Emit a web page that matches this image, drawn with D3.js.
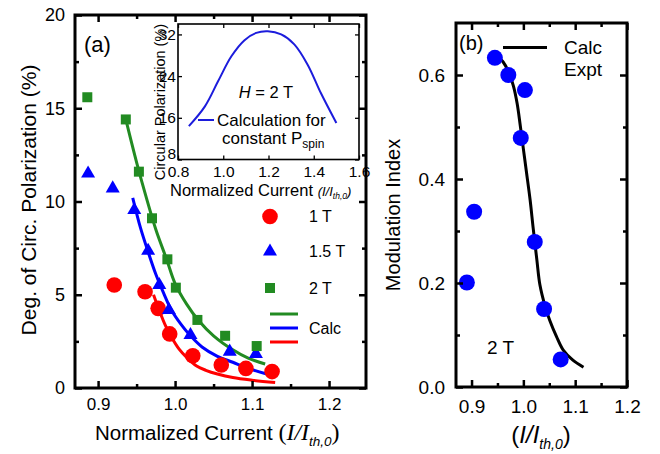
<!DOCTYPE html>
<html><head><meta charset="utf-8">
<script src="https://cdn.jsdelivr.net/npm/d3@7"></script>
<style>
body{margin:0;background:#fff;}
text{font-family:"Liberation Sans",Arial,sans-serif;fill:#000;}
</style></head>
<body><svg id="c" width="660" height="454"></svg>
<script>
// ---------- DATA ----------
// Panel (a): experimental points (x = I/I_th,0, y = circular polarization %)
const red1T_x   = [0.921, 0.961, 0.978, 0.993, 1.023, 1.060, 1.092, 1.126];
const red1T_y   = [5.52, 5.16, 4.27, 2.90, 1.73, 1.23, 1.05, 0.88];
const blue15T_x = [0.887, 0.919, 0.947, 0.965, 0.9795, 0.992, 1.020, 1.071, 1.105];
const blue15T_y = [11.5, 10.7, 9.54, 7.36, 5.52, 4.18, 2.84, 1.95, 1.82];
const green2T_x = [0.886, 0.936, 0.953, 0.970, 0.990, 1.001, 1.029, 1.065, 1.106];
const green2T_y = [15.59, 14.4, 11.6, 9.1, 6.9, 5.38, 3.65, 2.80, 2.25];
// Panel (a): calculated curves
const calcGreen_x = [0.936, 0.950, 0.962, 0.975, 0.989, 1.000, 1.015, 1.030, 1.050, 1.075, 1.095, 1.117];
const calcGreen_y = [14.4, 12.1, 10.3, 8.5, 6.9, 5.6, 4.5, 3.65, 2.8, 2.05, 1.6, 1.29];
const calcBlue_x  = [0.945, 0.955, 0.965, 0.975, 0.985, 0.995, 1.008, 1.020, 1.035, 1.055, 1.075, 1.095, 1.119];
const calcBlue_y  = [10.2, 8.6, 7.3, 6.1, 5.1, 4.2, 3.4, 2.8, 2.2, 1.7, 1.38, 1.05, 0.75];
const calcRed_x   = [0.972, 0.980, 0.988, 0.995, 1.005, 1.016, 1.028, 1.040, 1.055, 1.075, 1.100, 1.130];
const calcRed_y   = [5.0, 4.1, 3.3, 2.75, 2.1, 1.6, 1.18, 0.95, 0.75, 0.56, 0.42, 0.30];
// Inset: calculation for constant P_spin (H = 2 T)
const inset_x = [0.848, 0.919, 0.977, 1.036, 1.094, 1.146, 1.197, 1.256, 1.314, 1.373, 1.432, 1.500];
const inset_y = [14.4, 18.2, 23.0, 27.8, 30.9, 32.3, 32.6, 32.0, 30.1, 26.2, 20.7, 15.0];
// Panel (b): modulation index
const expt_x = [0.891, 0.905, 0.945, 0.971, 0.995, 1.003, 1.022, 1.040, 1.072];
const expt_y = [0.201, 0.337, 0.633, 0.600, 0.479, 0.571, 0.279, 0.150, 0.053];
const calcB_x = [0.936, 0.950, 0.961, 0.972, 0.981, 0.988, 0.994, 1.000, 1.006, 1.013, 1.019, 1.026, 1.032, 1.042, 1.051, 1.064, 1.077, 1.095, 1.116];
const calcB_y = [0.640, 0.636, 0.625, 0.605, 0.578, 0.545, 0.503, 0.458, 0.413, 0.360, 0.305, 0.245, 0.196, 0.155, 0.128, 0.097, 0.071, 0.052, 0.038];
// Ticks
const aXMajor = [0.9, 1.0, 1.1, 1.2], aXMinor = [0.95, 1.05, 1.15];
const aYMajor = [0, 5, 10, 15, 20],   aYMinor = [2.5, 7.5, 12.5, 17.5];
const iXMajor = [0.8, 1.0, 1.2, 1.4, 1.6], iYMajor = [8, 16, 24, 32];
const bXMajor = [0.9, 1.0, 1.1, 1.2], bXMinor = [0.95, 1.05, 1.15];
const bYMajor = [0, 0.2, 0.4, 0.6],   bYMinor = [0.1, 0.3, 0.5];
const legendA = [{label:"1 T", shape:"circle"}, {label:"1.5 T", shape:"triangle"}, {label:"2 T", shape:"square"}];

// ---------- STYLE ----------
const RED = "#ff0000", BLUE = "#0000ff", GREEN = "#228b22", INSET = "#1c1cdc";
const svg = d3.select("#c");
svg.append("rect").attr("width",660).attr("height",454).attr("fill","#fff");
const zip = (xs, ys) => xs.map((x,i)=>[x, ys[i]]);

function frameAxes(g, x, y, o) {
  const [x0,x1] = x.range(), [y0,y1] = y.range();
  const mk = (axis, tr, vals, size, pad, fmt, fs) => {
    const a = g.append("g").attr("transform", tr)
      .call(axis.tickValues(vals).tickSize(size).tickPadding(pad).tickFormat(fmt));
    a.select(".domain").remove();
    a.selectAll("line").attr("stroke","#000").attr("stroke-width", o.tw);
    a.selectAll("text").attr("font-size", fs).attr("font-family","Liberation Sans, Arial, sans-serif").attr("fill","#000");
    return a;
  };
  const none = () => "";
  const bx = mk(d3.axisBottom(x), `translate(0,${y0})`, o.xMaj, -o.maj, o.xpad, o.xfmt, o.fs);
  mk(d3.axisTop(x), `translate(0,${y1})`, o.xMaj, -o.maj, 0, none, o.fs);
  const ly = mk(d3.axisLeft(y), `translate(${x0},0)`, o.yMaj, -o.maj, o.ypad, o.yfmt, o.fsy||o.fs);
  mk(d3.axisRight(y), `translate(${x1},0)`, o.yMaj, -o.maj, 0, none, o.fs);
  if (o.xMin) {
    mk(d3.axisBottom(x), `translate(0,${y0})`, o.xMin, -o.min, 0, none, o.fs);
    mk(d3.axisTop(x), `translate(0,${y1})`, o.xMin, -o.min, 0, none, o.fs);
  }
  if (o.yMin) {
    mk(d3.axisLeft(y), `translate(${x0},0)`, o.yMin, -o.min, 0, none, o.fs);
    mk(d3.axisRight(y), `translate(${x1},0)`, o.yMin, -o.min, 0, none, o.fs);
  }
  g.append("rect").attr("x",x0).attr("y",y1).attr("width",x1-x0).attr("height",y0-y1)
    .attr("fill","none").attr("stroke","#000").attr("stroke-width",o.fw);
  return {bx, ly};
}

// ---------- PANEL (a) ----------
const xA = d3.scaleLinear().domain([0.87, 1.248]).range([75, 366]);
const yA = d3.scaleLinear().domain([0, 20]).range([388, 15]);
const gA = svg.append("g");
const lineA = d3.line().x(d=>xA(d[0])).y(d=>yA(d[1])).curve(d3.curveCatmullRom.alpha(0.5));
[[calcGreen_x,calcGreen_y,GREEN],[calcBlue_x,calcBlue_y,BLUE],[calcRed_x,calcRed_y,RED]].forEach(([xs,ys,c])=>{
  gA.append("path").attr("d", lineA(zip(xs,ys))).attr("fill","none").attr("stroke",c).attr("stroke-width",3);
});
const triSym = d3.symbol().type(d3.symbolTriangle).size(85)();
const sqSym = d3.symbol().type(d3.symbolSquare).size(100)();
gA.selectAll(".r").data(zip(red1T_x, red1T_y)).join("circle")
  .attr("cx",d=>xA(d[0])).attr("cy",d=>yA(d[1])).attr("r",7.8).attr("fill",RED);
gA.selectAll(".t").data(zip(blue15T_x, blue15T_y)).join("path")
  .attr("d",triSym).attr("transform",d=>`translate(${xA(d[0])},${yA(d[1])})`).attr("fill",BLUE);
gA.selectAll(".s").data(zip(green2T_x, green2T_y)).join("path")
  .attr("d",sqSym).attr("transform",d=>`translate(${xA(d[0])},${yA(d[1])})`).attr("fill",GREEN);

// legend (a)
const legY = [216.5, 251.5, 288];
legendA.forEach((L,i)=>{
  const cy = legY[i];
  if (L.shape==="circle") gA.append("circle").attr("cx",270).attr("cy",cy).attr("r",7.8).attr("fill",RED);
  if (L.shape==="triangle") gA.append("path").attr("d",triSym).attr("transform",`translate(270,${cy})`).attr("fill",BLUE);
  if (L.shape==="square") gA.append("path").attr("d",sqSym).attr("transform",`translate(270,${cy})`).attr("fill",GREEN);
  gA.append("text").attr("x",309).attr("y",cy+5.5).attr("font-size",16).text(L.label);
});
[[314,GREEN],[328,BLUE],[342,RED]].forEach(([y,c])=>{
  gA.append("line").attr("x1",270).attr("x2",298).attr("y1",y).attr("y2",y).attr("stroke",c).attr("stroke-width",3);
});
gA.append("text").attr("x",309).attr("y",333.5).attr("font-size",16).text("Calc");

frameAxes(gA, xA, yA, {xMaj:aXMajor, xMin:aXMinor, yMaj:aYMajor, yMin:aYMinor, maj:7, min:4, tw:2.5, fw:3,
  xpad:10, ypad:10, xfmt:d3.format(".1f"), yfmt:d3.format("d"), fs:17, fsy:18});
gA.append("text").attr("x",84).attr("y",52).attr("font-size",22).text("(a)");

// x title (a)
const tA = gA.append("text").attr("x",95).attr("y",440).attr("font-size",20.5);
tA.append("tspan").text("Normalized Current ");
tA.append("tspan").attr("font-family","Liberation Serif, Times New Roman, serif").attr("font-size",24).text("(");
tA.append("tspan").attr("font-family","Liberation Serif, Times New Roman, serif").attr("font-style","italic").attr("font-size",24).text("I/I");
tA.append("tspan").attr("font-style","italic").attr("font-size",13.5).attr("dy",6).text("th,0");
tA.append("tspan").attr("font-family","Liberation Serif, Times New Roman, serif").attr("font-size",24).attr("dy",-6).text(")");
// y title (a)
gA.append("text").attr("transform","translate(36,200) rotate(-90)").attr("text-anchor","middle")
  .attr("font-size",21).text("Deg. of Circ. Polarization (%)");

// ---------- INSET ----------
const xI = d3.scaleLinear().domain([0.8, 1.6]).range([178, 359]);
const yI = d3.scaleLinear().domain([8, 34]).range([159.5, 24]);
const gI = svg.append("g");
gI.append("rect").attr("x",178).attr("y",24).attr("width",181).attr("height",135.5).attr("fill","#fff");
gI.append("path").attr("d", d3.line().x(d=>xI(d[0])).y(d=>yI(d[1])).curve(d3.curveCatmullRom.alpha(0.5))(zip(inset_x, inset_y)))
  .attr("fill","none").attr("stroke",INSET).attr("stroke-width",2);
gI.append("text").attr("transform","translate(165,102) rotate(-90)").attr("text-anchor","middle")
  .attr("font-size",14.5).text("Circular Polarization (%)");
const inAx = frameAxes(gI, xI, yI, {xMaj:iXMajor, yMaj:iYMajor, maj:4, min:2, tw:1.3, fw:1.6,
  xpad:6, ypad:2, xfmt:d3.format(".1f"), yfmt:d3.format("d"), fs:15.5});
inAx.ly.selectAll("text").filter(d=>d===8).attr("dy","-0.05em");
gI.append("text").attr("x",266).attr("y",98).attr("text-anchor","middle").attr("font-size",16.5)
  .call(t=>{t.append("tspan").attr("font-style","italic").text("H"); t.append("tspan").text(" = 2 T");});
gI.append("line").attr("x1",198).attr("x2",214).attr("y1",120).attr("y2",120).attr("stroke",INSET).attr("stroke-width",2);
gI.append("text").attr("x",217).attr("y",126).attr("font-size",17).text("Calculation for");
gI.append("text").attr("x",222).attr("y",144).attr("font-size",17)
  .call(t=>{t.append("tspan").text("constant P"); t.append("tspan").attr("font-size",12).attr("dy",4).text("spin");});
const tI = gI.append("text").attr("x",170).attr("y",196).attr("font-size",16.5);
tI.append("tspan").text("Normalized Current ");
tI.append("tspan").attr("font-style","italic").attr("font-size",13).text("(I/I");
tI.append("tspan").attr("font-style","italic").attr("font-size",8.5).attr("dy",3).text("th,0");
tI.append("tspan").attr("font-style","italic").attr("font-size",13).attr("dy",-3).text(")");

// ---------- PANEL (b) ----------
const xB = d3.scaleLinear().domain([0.87, 1.2]).range([456, 627]);
const yB = d3.scaleLinear().domain([0, 0.7]).range([387, 23]);
const gB = svg.append("g");
gB.append("path").attr("d", d3.line().x(d=>xB(d[0])).y(d=>yB(d[1])).curve(d3.curveCatmullRom.alpha(0.5))(zip(calcB_x, calcB_y)))
  .attr("fill","none").attr("stroke","#000").attr("stroke-width",3);
gB.selectAll(".e").data(zip(expt_x, expt_y)).join("circle")
  .attr("cx",d=>xB(d[0])).attr("cy",d=>yB(d[1])).attr("r",8).attr("fill",BLUE);
frameAxes(gB, xB, yB, {xMaj:bXMajor, xMin:bXMinor, yMaj:bYMajor, yMin:bYMinor, maj:7, min:4, tw:2.5, fw:3,
  xpad:13, ypad:11, xfmt:d3.format(".1f"), yfmt:d3.format(".1f"), fs:19});
gB.append("text").attr("x",459).attr("y",50).attr("font-size",20).text("(b)");
gB.append("line").attr("x1",503).attr("x2",547).attr("y1",47.5).attr("y2",47.5).attr("stroke","#000").attr("stroke-width",3);
gB.append("text").attr("x",564).attr("y",54).attr("font-size",19).text("Calc");
gB.append("text").attr("x",564).attr("y",76).attr("font-size",19).text("Expt");
gB.append("text").attr("x",487).attr("y",354).attr("font-size",19).text("2 T");
const tB = gB.append("text").attr("x",541).attr("y",443).attr("text-anchor","middle")
  .attr("font-family","Liberation Serif, Times New Roman, serif").attr("font-size",24);
tB.append("tspan").text("(");
tB.append("tspan").attr("font-style","italic").text("I/I");
tB.append("tspan").attr("font-family","Liberation Sans, Arial, sans-serif").attr("font-style","italic").attr("font-size",14).attr("dy",6).text("th,0");
tB.append("tspan").attr("dy",-6).text(")");
gB.append("text").attr("transform","translate(400,215) rotate(-90)").attr("text-anchor","middle")
  .attr("font-size",20).text("Modulation Index");
</script></body></html>
